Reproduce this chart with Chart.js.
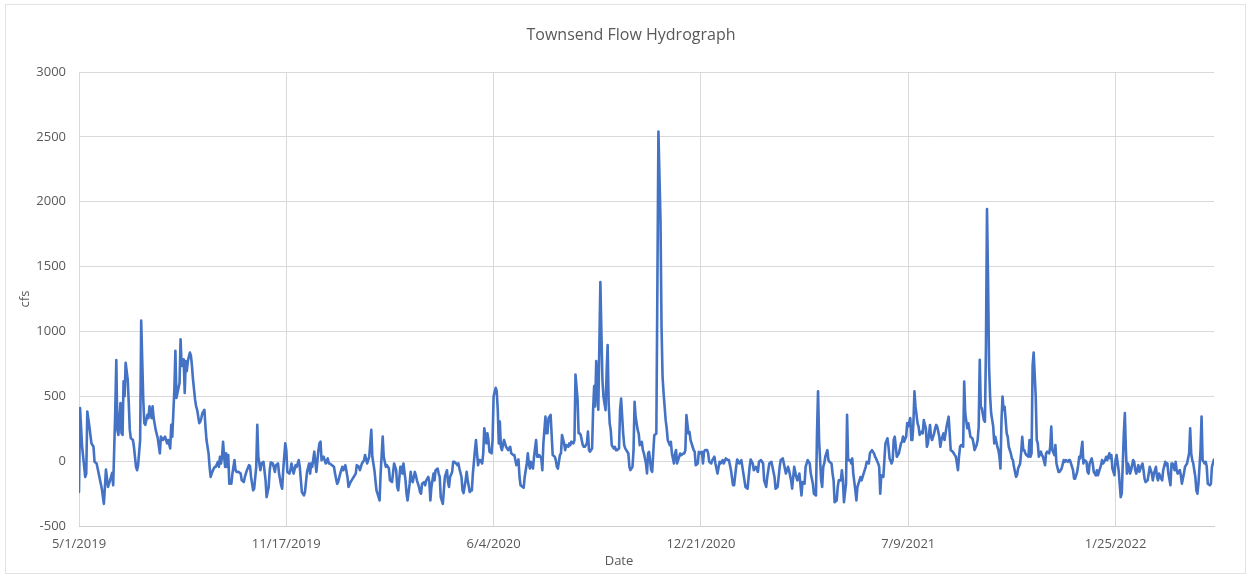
<!DOCTYPE html>
<html>
<head>
<meta charset="utf-8">
<title>Townsend Flow Hydrograph</title>
<script src="https://cdn.jsdelivr.net/npm/chart.js@4.4.1/dist/chart.umd.min.js"></script>
<style>
  html, body { margin: 0; padding: 0; background: #ffffff; }
  canvas { display: block; }
</style>
</head>
<body>
<canvas id="hydrograph" width="1251" height="578"></canvas>
<script>
// Daily flow readings as [days since 5/1/2019, cfs]
const CHART_TITLE = 'Townsend Flow Hydrograph';
const X_TITLE = 'Date';
const Y_TITLE = 'cfs';
const xTickLabels = ['5/1/2019', '11/17/2019', '6/4/2020', '12/21/2020', '7/9/2021', '1/25/2022'];
const yMin = -500, yMax = 3000, yStep = 500;
const lastDay = 1095;

const flow2019 = [
  [0,-238],[1,409],[3,111],[4,34],[6,-122],[7,-96],[8,383],[10,267],[12,137],[14,111],[15,-5],[17,-18],[19,-96],[21,-174],[22,-212],[24,-329],[25,-199],[26,-65],[28,-199],[30,-148],[32,-91],[33,-186],[35,396],[36,780],[37,241],[38,202],[40,448],[41,215],[42,202],[43,616],[44,500],[45,759],[47,629],[48,448],[49,241],[50,176],[52,163],[53,111],[55,-44],[56,-70],[57,-31],[59,163],[60,1083],[62,474],[63,293],[64,280],[66,357],[67,332],[68,422],[70,332],[71,422],[72,332],[74,241],[76,176],[78,60],[79,189],[81,163],[83,189],[85,137],[86,163],[88,98],[89,280],[90,189],[92,552],[93,850],[94,487],[95,526],[97,603],[98,940],
  [99,733],[101,785],[102,526],[103,772],[104,694],[105,772],[107,837],[108,811],[109,733],[110,629],[112,474],[113,422],[114,396],[116,293],[117,306],[118,332],[119,370],[121,396],[122,267],[123,163],[125,60],[126,-44],[127,-122],[128,-96],[130,-57],[131,-44],[132,-44],[134,-5],[135,-44],[136,34],[137,-18],[138,34],[139,150],[140,34],[141,-44],[142,60],[143,-44],[144,47],[145,-174],[146,-161],[147,-174],[148,-96],[150,8],[151,-70],[152,-83],[154,-83],[156,-96],[157,-148],[159,-161],[160,-122],[162,-70],[164,-31],[165,-39],[166,-122],[168,-225],[169,-212],[171,-44],[172,280],[173,34],[175,-70],[176,-18],[178,-5],[180,-148],[181,-277],[183,-199],[184,-70],[185,-10],[187,-18],[189,-83],[190,-31],[192,-18],[193,-96],[195,-186],[196,-212],[197,-70],[199,137],[200,85],[201,-83],[203,-96],
  [204,-70],[205,-18],[207,-96],[209,-31],[210,-44],[212,8],[213,-44],[215,-238],[217,-264],[218,-238],[220,-83],[222,-18],[223,-96],[224,-18],[225,-44],[227,73],[228,-5],[229,-83],[231,85],[232,137],[233,150],[234,8],[236,34],[237,8],[238,-18],[240,21],[241,-18],[242,-18],[244,-31]
];

const flow2020 = [
  [246,-44],[247,-96],[249,-174],[250,-161],[252,-96],[254,-44],[255,-70],[257,-31],[259,-122],[260,-199],[262,-161],[263,-148],[265,-122],[267,-96],[268,-31],[270,-44],[271,-70],[273,-18],[275,8],[276,47],[278,-18],[280,34],[281,137],[282,241],[283,34],[285,-70],[286,-148],[287,-225],[288,-251],[290,-303],[291,-96],[293,189],[294,34],[296,-44],[297,-31],[299,-57],[300,-148],[302,-161],[304,-18],
  [306,-70],[307,-199],[308,-225],[310,-44],[311,-44],[312,-96],[313,-18],[315,-148],[316,-251],[317,-303],[319,-174],[320,-83],[321,-148],[322,-161],[324,-83],[325,-109],[326,-148],[328,-199],[329,-238],[330,-251],[331,-174],[333,-161],[334,-186],[335,-148],[337,-122],[338,-161],[339,-303],[340,-199],[342,-96],[343,-148],[344,-70],[346,-57],[347,-96],[348,-122],[349,-277],[351,-329],[352,-225],[353,-122],[355,-70],[356,-161],[357,-199],[358,-122],[360,-83],[361,-5],[362,-5],[364,-18],[365,-31],[366,-18],[367,-57],[369,-122],[370,-225],[371,-246],[373,-148],[374,-83],[375,-148],[377,-238],[378,-225],[379,-225],[380,-96],[382,85],[383,163],[384,60],[385,-31],[386,8],[387,8],[389,-18],[390,60],[391,254],[393,137],[394,215],[395,163],[396,73],[398,60],[399,163],[400,500],[402,565],[403,539],[404,396],[405,137],
  [406,306],[407,111],[408,85],[410,163],[411,137],[412,111],[414,85],[415,98],[416,111],[417,60],[419,47],[420,47],[421,8],[422,-31],[424,13],[425,-122],[426,-186],[428,-199],[429,-205],[430,-122],[432,-18],[433,60],[434,-18],[435,-57],[436,-5],[438,-57],[439,34],[441,163],[442,34],[443,34],[444,47],[446,21],[447,-70],[448,137],[450,344],[451,215],[452,215],[453,332],[455,357],[456,202],[457,47],[459,34],[460,8],[461,-44],[462,-57],[464,47],[465,60],[466,202],[468,137],[469,85],[470,124],[472,111],[473,137],[474,124],[475,150],[477,137],[478,163],[479,668],[481,474],[482,215],[483,215],[484,202],[486,124],[487,111],[488,111],[490,137],[491,228],[492,85],[493,73],[495,98],[496,396],[497,578],[498,422],[499,772],[500,603],[501,396],[503,1380],[504,985],
  [505,625],[506,496],[508,393],[509,676],[510,895],[511,445],[512,290],[513,239],[514,123],[516,98],[517,111],[518,85],[519,85],[521,98],[522,393],[523,483],[525,213],[526,123],[527,98],[528,85],[530,59],[531,-44],[532,-69],[534,-44],[535,85],[536,458],[537,342],[539,239],[540,213],[541,123],[543,149],[544,85],[545,59],[547,-18],[548,-95],[549,59],[550,72],[552,-69],[553,-82],[554,59],[555,200],[557,213],[558,1345],[559,2540],[561,1859],[562,1036],[563,650],[564,522],[566,316],[567,252],[568,162],[570,123],[571,149],[572,59],[574,-18],[575,59],[576,85],[577,-18],[579,33],[580,59],[581,46],[583,59],[584,59],[585,85],[586,355],[588,213],[589,226],[590,162],[592,111],[593,85],[594,72],[595,-31],[597,-18],[598,72],[599,59],[601,72],[602,-18],[603,72],[604,85],[606,85],[607,59],[608,-5],[610,-18]
];

const flow2021 = [
  [611,8],[613,34],[614,-18],[616,-96],[618,-5],[619,-18],[621,8],[622,-18],[624,21],[626,8],[627,8],[629,-70],[631,-186],[632,-186],[634,-44],[635,13],[637,-18],[639,8],[640,-44],[642,-148],[643,-199],[645,-212],[647,-44],[648,13],[650,-18],[651,-70],[653,-44],[655,-83],[656,-5],[658,8],[660,-18],[661,-148],[663,-199],[664,-122],[666,-18],[668,-5],[669,-44],[671,-122],[672,-212],[674,-199],[676,-44],[677,8],[679,21],[680,-18],[682,-96],[684,-44],[685,-70],[687,-148],[688,-212],[690,-44],[692,-122],[693,-148],[695,-96],[697,-264],[698,-161],[700,-174],[701,-44],[703,8],[705,-18],[706,-96],[708,-174],[709,-251],
  [711,-264],[712,215],[713,539],[714,163],[716,-148],[717,-199],[718,-44],[719,-18],[720,34],[722,85],[723,8],[724,-5],[726,-18],[727,-96],[728,-148],[729,-316],[731,-303],[732,-199],[733,-148],[735,-148],[736,-70],[737,-148],[738,-316],[740,-174],[741,357],[742,8],[744,8],[745,-18],[746,21],[747,-96],[749,-225],[750,-303],[751,-199],[753,-148],[754,-122],[755,-148],[756,-122],[758,-70],[759,-44],[760,-5],[762,-18],[763,60],[764,73],[765,85],[767,60],[768,34],[769,21],[771,-18],[772,-44],[773,-251],[774,-109],[776,-122],[777,8],[778,137],[780,176],[781,111],[782,21],[784,-18],[785,8],[786,163],[787,189],[789,34],[790,47],[791,60],[793,137],[794,150],[795,189],[796,150],[798,189],[799,293],[800,267],[802,332],[803,163],[804,163],[805,293],[806,539],[807,422],[809,293],[810,267],[811,202],[813,228],
  [814,214],[815,317],[817,253],[818,111],[819,137],[821,279],[822,188],[823,163],[825,214],[826,253],[827,279],[828,266],[830,188],[831,111],[832,163],[834,214],[835,163],[836,214],[837,266],[839,343],[840,214],[841,85],[843,72],[844,59],[845,46],[846,34],[848,-70],[849,34],[850,111],[851,124],[853,111],[854,614],[855,369],[857,253],[858,292],[859,240],[860,188],[862,175],[863,137],[864,85],[866,124],[867,163],[868,266],[869,782],[870,420],[871,408],[873,317],[874,304],[875,885],[876,1943],[877,1401],[878,730],[879,498],[880,369],[882,266],[883,137],[884,188],[886,111],[887,85],[888,34],[889,-57],[890,317],[891,498],[892,395],[893,420],[895,214],[896,188],[897,111],[899,59],[900,21],[901,8],[902,-44],[904,-121],[905,-108],[906,-57],[908,-18],[909,72],[910,188],[911,85],
  [912,85],[913,60],[914,47],[916,34],[917,163],[918,34],[919,60],[920,733],[921,837],[923,500],[924,163],[925,137],[926,34],[928,73],[929,47],[930,34],[932,-31],[933,60],[934,73],[936,60],[937,111],[938,267],[939,85],[941,47],[942,124],[943,-18],[945,-83],[946,-83],[947,-70],[948,-57],[950,8],[951,-5],[952,8],[954,-5],[955,8],[956,8],[957,-18],[959,-70],[960,-135],[961,-135],[963,-83],[964,-31],[965,34],[966,21],[968,150],[969,-18],[970,8],[972,-5],[973,-83],[974,-96],[975,-18]
];

const flow2022 = [
  [977,21],[978,-18],[979,-83],[981,-109],[982,-70],[983,-109],[984,-83],[986,-31],[987,8],[988,-18],[990,8],[991,34],[992,8],[994,60],[995,21],[996,47],[997,-57],[999,-109],[1000,8],[1001,47],[1003,-70],[1004,-174],[1005,-277],[1006,-251],[1008,215],[1009,370],[1010,85],[1011,-96],[1012,-18],[1013,-44],[1014,-96],[1015,-70],[1017,8],[1018,-5],[1019,-70],[1020,-96],[1022,-31],[1023,-83],[1024,-57],[1026,-18],[1027,-70],[1028,-135],[1029,-161],[1031,-148],[1032,-96],[1033,-44],[1035,-96],[1036,-148],[1037,-96],[1039,-44],[1040,-122],[1041,-148],[1042,-96],[1044,-135],[1045,-148],[1046,-70],[1048,-5],[1049,-31],[1050,-18],[1051,-96],[1053,-186],[1054,-18],[1055,-18],[1057,-70],[1058,-5],[1059,-70],[1060,-96],[1062,-70],[1063,-109],[1064,-174],[1066,-96],[1067,-44],[1068,-31],[1069,-18],[1071,60],[1072,254],[1073,60],[1074,8],[1075,-18],[1077,-122],[1078,-225],[1079,-251],[1080,-174],[1082,85],[1083,344],[1084,8],[1086,-18],[1087,-5],[1088,-44],[1089,-174],[1091,-186],[1092,-174],[1093,-44],[1095,13]
];

// Day offset of an m/d/yyyy label from the first reading
function dayOffset(label) {
  const [m, d, y] = label.split('/').map(Number);
  return Math.round((Date.UTC(y, m - 1, d) - Date.UTC(2019, 4, 1)) / 86400000);
}

const readings = [...flow2019, ...flow2020, ...flow2021, ...flow2022]
  .map(([day, cfs]) => ({ x: day, y: cfs }));

const TEXT_COLOR = '#595959';
const GRID_COLOR = '#d9d9d9';
const FONT = '"Open Sans", "Liberation Sans", sans-serif';

// Chart title, axis titles and the outer frame
const chartDecor = {
  id: 'chartDecor',
  beforeDraw(chart) {
    const ctx = chart.ctx;
    ctx.save();
    ctx.fillStyle = '#ffffff';
    ctx.fillRect(0, 0, chart.width, chart.height);
    ctx.restore();
  },
  afterDraw(chart) {
    const ctx = chart.ctx;
    const area = chart.chartArea;
    ctx.save();
    ctx.strokeStyle = '#e3e3e3';
    ctx.lineWidth = 1;
    ctx.strokeRect(5.5, 4.5, 1240, 569);

    ctx.fillStyle = TEXT_COLOR;
    ctx.textAlign = 'center';
    ctx.textBaseline = 'middle';
    ctx.font = '16px ' + FONT;
    ctx.fillText(CHART_TITLE, 631, 35);

    ctx.font = '13px ' + FONT;
    ctx.fillText(X_TITLE, 619, 561);

    ctx.translate(25, (area.top + area.bottom) / 2);
    ctx.rotate(-Math.PI / 2);
    ctx.fillText(Y_TITLE, 0, 0);
    ctx.restore();
  }
};

new Chart(document.getElementById('hydrograph'), {
  type: 'line',
  data: {
    datasets: [{
      label: 'Flow (cfs)',
      data: readings,
      borderColor: '#4472C4',
      borderWidth: 2.6,
      pointRadius: 0,
      pointHoverRadius: 0,
      tension: 0,
      borderJoinStyle: 'round',
      borderCapStyle: 'round',
      fill: false
    }]
  },
  options: {
    responsive: false,
    animation: false,
    devicePixelRatio: 1,
    layout: { padding: { left: 0, right: 37, top: 72, bottom: 0 } },
    plugins: {
      legend: { display: false },
      title: { display: false },
      tooltip: { enabled: false }
    },
    scales: {
      x: {
        type: 'linear',
        min: 0,
        max: lastDay,
        afterBuildTicks(scale) {
          scale.ticks = xTickLabels.map(l => ({ value: dayOffset(l) }));
        },
        afterFit(scale) { scale.height = 52; },
        ticks: {
          autoSkip: false,
          maxRotation: 0,
          padding: 10,
          color: TEXT_COLOR,
          font: { family: FONT, size: 13 },
          callback: (value, index) => xTickLabels[index]
        },
        grid: { color: GRID_COLOR, lineWidth: 1, drawTicks: false },
        border: { display: true, color: '#cfcfcf', width: 1 }
      },
      y: {
        type: 'linear',
        min: yMin,
        max: yMax,
        afterFit(scale) { scale.width = 79; },
        ticks: {
          stepSize: yStep,
          padding: 13,
          color: TEXT_COLOR,
          font: { family: FONT, size: 13 },
          callback: (value) => String(value)
        },
        grid: { color: GRID_COLOR, lineWidth: 1, drawTicks: false },
        border: { display: false }
      }
    }
  },
  plugins: [chartDecor]
});
</script>
</body>
</html>
